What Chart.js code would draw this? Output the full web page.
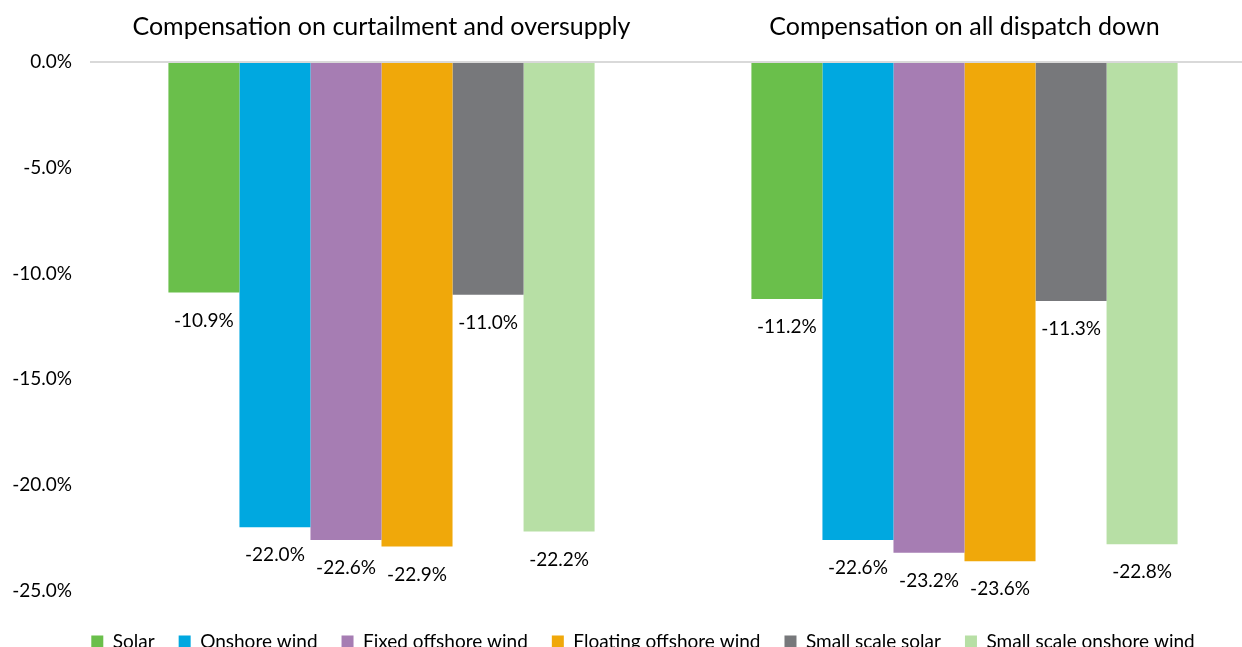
<!DOCTYPE html>
<html>
<head>
<meta charset="utf-8">
<script src="https://cdn.jsdelivr.net/npm/chart.js@4"></script>
<style>
  html, body { margin: 0; padding: 0; background: #fff; overflow: hidden; }
  #wrap { width: 1256px; height: 665px; }
</style>
</head>
<body>
<div id="wrap"><canvas id="barchart"></canvas></div>
<script>
const categories = ['Compensation on curtailment and oversupply', 'Compensation on all dispatch down'];
const seriesNames = ['Solar', 'Onshore wind', 'Fixed offshore wind', 'Floating offshore wind', 'Small scale solar', 'Small scale onshore wind'];
const solar = [-10.9, -11.2];
const onshoreWind = [-22.0, -22.6];
const fixedOffshore = [-22.6, -23.2];
const floatingOffshore = [-22.9, -23.6];
const smallSolar = [-11.0, -11.3];
const smallOnshore = [-22.2, -22.8];
const yTicks = [0, -5, -10, -15, -20, -25];

const colours = ['#6abf4b', '#00a8e0', '#a67db3', '#f0a80a', '#77787b', '#b7dfa5'];
const allSeries = [solar, onshoreWind, fixedOffshore, floatingOffshore, smallSolar, smallOnshore];

const FONT = 'Lato, "Open Sans", sans-serif';

// labels under each bar end
const barLabels = {
    id: 'barLabels',
    afterDatasetsDraw(chart) {
        const ctx = chart.ctx;
        ctx.save();
        ctx.font = '19px ' + FONT;
        ctx.fillStyle = '#000';
        ctx.textAlign = 'center';
        ctx.textBaseline = 'middle';
        chart.data.datasets.forEach((ds, i) => {
            chart.getDatasetMeta(i).data.forEach((bar, j) => {
                ctx.fillText(ds.data[j].toFixed(1) + '%', bar.x, bar.y + 28);
            });
        });
        ctx.restore();
    }
};

// nudge the legend a bit to the right, like the original
const legendShift = {
    id: 'legendShift',
    afterLayout(chart) {
        if (chart.legend) {
            chart.legend.left += 15;
            chart.legend.right += 15;
        }
    }
};

const ctx = document.getElementById('barchart').getContext('2d');
const myChart = new Chart(ctx, {
    type: 'bar',
    data: {
        labels: categories,
        datasets: seriesNames.map((name, i) => ({
            label: name,
            data: allSeries[i],
            backgroundColor: colours[i],
            borderWidth: 0,
            categoryPercentage: 0.731,
            barPercentage: 1.0
        }))
    },
    options: {
        responsive: true,
        maintainAspectRatio: false,
        animation: false,
        layout: { padding: { top: 0, right: 0, bottom: 4, left: 0 } },
        plugins: {
            legend: {
                position: 'bottom',
                title: { display: true, text: '', font: { size: 1 }, padding: { top: 16, bottom: 0 } },
                labels: {
                    font: { family: FONT, size: 19 },
                    color: '#000',
                    boxWidth: 12,
                    boxHeight: 12,
                    padding: 24
                }
            },
            tooltip: { enabled: false }
        },
        scales: {
            x: {
                position: 'top',
                grid: { display: false },
                border: { display: false },
                ticks: {
                    font: { family: FONT, size: 25 },
                    color: '#000',
                    padding: 12
                }
            },
            y: {
                min: -25,
                max: 0,
                afterBuildTicks(axis) {
                    axis.ticks = yTicks.map(v => ({ value: v }));
                },
                afterFit(axis) { axis.width = 90; },
                grid: {
                    color: c => c.tick && c.tick.value === 0 ? '#d9d9d9' : 'rgba(0,0,0,0)',
                    lineWidth: 2,
                    drawTicks: false
                },
                border: { display: false },
                ticks: {
                    font: { family: FONT, size: 19 },
                    color: '#000',
                    padding: 18,
                    callback: v => v.toFixed(1) + '%'
                }
            }
        }
    },
    plugins: [barLabels, legendShift]
});
</script>
</body>
</html>
